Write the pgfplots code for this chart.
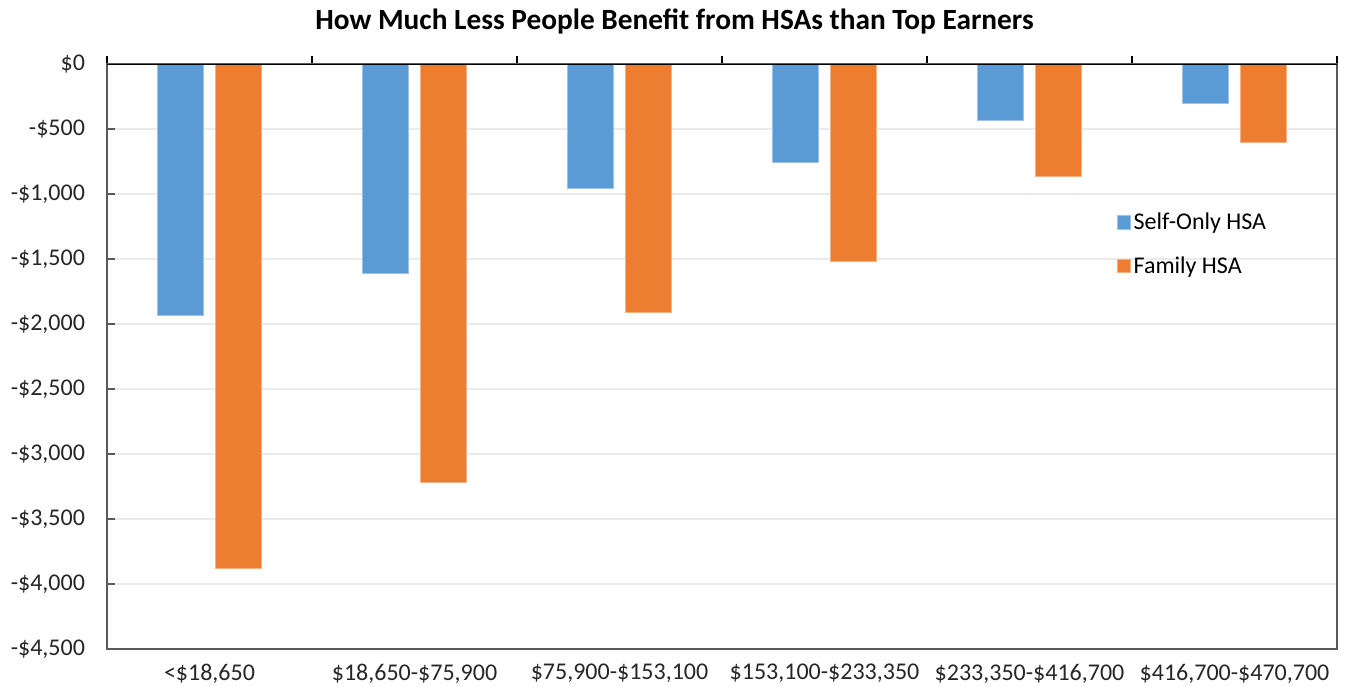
\documentclass[border=0pt]{standalone}
\usepackage{pgfplots}
\pgfplotsset{compat=1.18}
\usepackage{fontspec}
\setmainfont{Carlito}
\definecolor{selfc}{HTML}{5B9BD5}
\definecolor{famc}{HTML}{ED7D31}
\definecolor{gridc}{HTML}{EBEBEB}
\definecolor{framec}{HTML}{595959}
\begin{document}
\begin{tikzpicture}
\useasboundingbox (-80.25pt,-27.75pt) rectangle (933pt,486.75pt);
\begin{axis}[
  at={(0pt,0pt)}, anchor=south west,
  scale only axis,
  width=922.5pt, height=438.75pt,
  ybar=9pt, bar width=34.5pt,
  xmin=-0.5, xmax=5.5,
  ymin=-4500, ymax=0,
  ytick={-4500,-4000,...,0},
  yticklabels={-\$4{,}500,-\$4{,}000,-\$3{,}500,-\$3{,}000,-\$2{,}500,-\$2{,}000,-\$1{,}500,-\$1{,}000,-\$500,\$0},
  xtick={-0.5,0.5,1.5,2.5,3.5,4.5,5.5},
  xticklabels={},
  extra x ticks={0,1,2,3,4,5},
  extra x tick labels={<\$18{,}650,\$18{,}650-\$75{,}900,\$75{,}900-\$153{,}100,\$153{,}100-\$233{,}350,\$233{,}350-\$416{,}700,\$416{,}700-\$470{,}700},
  extra x tick style={major tick length=0pt, grid=none},
  xtick pos=upper, xticklabel pos=lower,
  ytick pos=left,
  tick align=outside,
  major tick length=6pt,
  y tick style={xshift=6pt, draw=framec, line width=1pt},
  x tick style={draw=black, line width=0.8pt},
  ymajorgrids, grid style={gridc, line width=0.8pt},
  axis line style={draw=framec, line width=0.9pt},
  xticklabel style={font=\fontsize{18pt}{20pt}\selectfont, text=black!85, yshift=-8pt},
  yticklabel style={font=\fontsize{18pt}{20pt}\selectfont, text=black!85, xshift=-7pt},
  title={How Much Less People Benefit from HSAs than Top Earners},
  title style={font=\bfseries\fontsize{22pt}{24pt}\selectfont, at={(0.4614,1)}, anchor=center, yshift=26pt},
  legend style={draw=none, fill=none, at={(0.821,0.6923)}, anchor=west, inner sep=0pt,
    font=\fontsize{18pt}{20pt}\selectfont, row sep=14.5pt, cells={anchor=west}},
  legend image code/.code={\fill[#1] (0pt,-5pt) rectangle (10pt,5pt);},
  every axis plot/.append style={draw=white, line width=0.4pt},
]
\addplot[fill=selfc, draw=selfc!60!white] coordinates {(0,-1936) (1,-1613) (2,-955) (3,-755) (4,-430) (5,-300)};
\addplot[fill=famc, draw=famc!60!white] coordinates {(0,-3880) (1,-3219) (2,-1908) (3,-1514) (4,-860) (5,-600)};
\legend{Self-Only HSA, Family HSA}
\draw[black, line width=1pt] (rel axis cs:0,1) -- (rel axis cs:1,1);
\end{axis}
\end{tikzpicture}
\end{document}
